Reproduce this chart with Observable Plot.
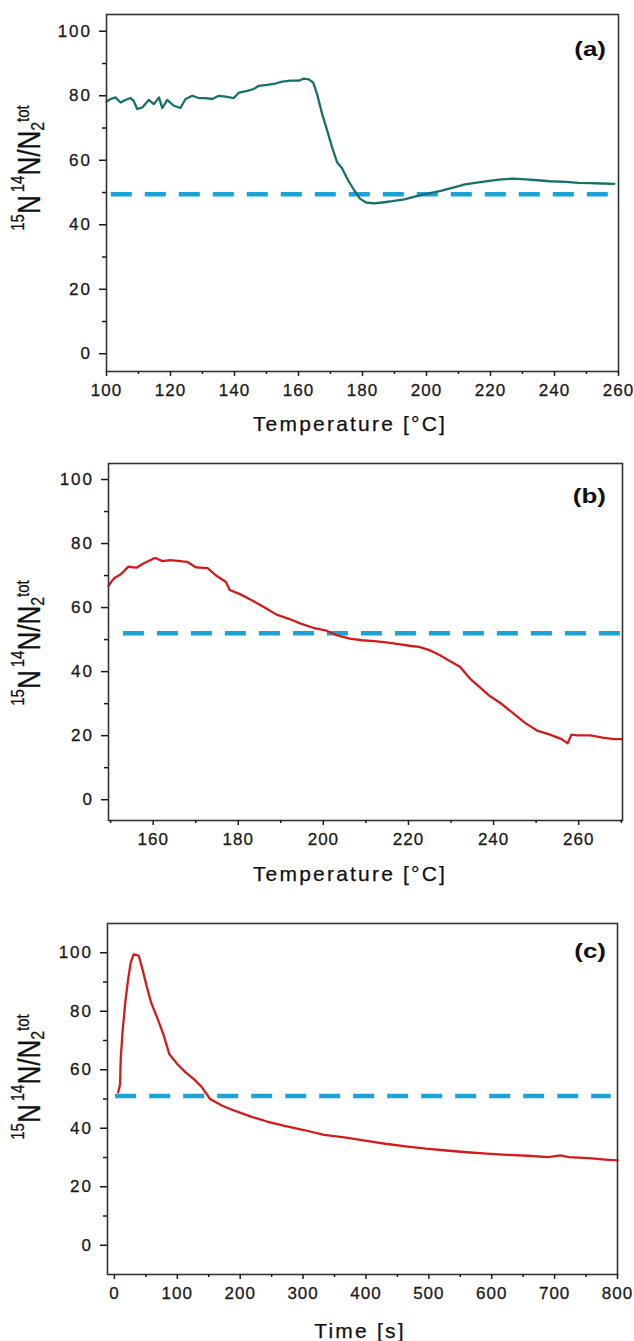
<!DOCTYPE html>
<html><head><meta charset="utf-8">
<script src="https://cdn.jsdelivr.net/npm/d3@7"></script>
<script src="https://cdn.jsdelivr.net/npm/@observablehq/plot@0.6"></script>
<style>
body{margin:0;background:#fff;}
#chart svg{display:block;}
#chart svg text{font-family:"Liberation Sans",Arial,sans-serif;}
#chart [aria-label="y-axis tick label"]{letter-spacing:2px;stroke:#1a1a1a;stroke-width:0.3px;}
#chart [aria-label="x-axis tick label"]{letter-spacing:1px;stroke:#1a1a1a;stroke-width:0.3px;}
.ttl{stroke:#111;stroke-width:0.25px;}
</style></head><body><div id="chart"></div>
<script>
// Panel (a): temperature ramp
const aTemp = [100,101.3,102.8,104.4,105.9,107.5,108.5,109.6,111.2,113.2,114.8,116.4,117.4,119,121,123.1,124.7,126.8,128.8,130.9,133,135.1,137.2,139.8,141.4,144,146,147.6,150.2,152.8,154.9,157.5,160.1,161.7,163.2,164.6,165.8,167.4,169,170.5,172.1,173.6,175.5,177.4,179.2,181.1,183.7,186.2,189.3,193.1,196.9,200.7,204.5,208.3,212,215.8,219.6,223.4,227.2,231,234.8,238.5,243.6,247.4,251.2,255,258.7];
const aRatio = [78.2,79,79.5,77.9,78.7,79.3,78.4,75.9,76.4,78.7,77.4,79.5,76.2,78.7,76.9,76.2,79,80,79.3,79.3,79,80,79.7,79.3,81,81.5,82.1,83.1,83.4,83.8,84.4,84.7,84.7,85.3,85.1,84.1,80.5,74.3,69.1,64,59.3,57.5,53.8,50.7,48.1,46.9,46.6,46.9,47.3,47.9,48.9,49.7,50.5,51.5,52.5,53.1,53.6,54.1,54.3,54.1,53.8,53.5,53.3,53,52.9,52.8,52.7];
// Panel (b)
const bTemp = [149.5,150.4,151.2,152.3,154.2,155.2,156.2,157.6,159.9,160.5,162.2,164,166.9,168,170,171,172.8,174.7,177.1,178,180.4,183.3,186.1,189,191.9,194.7,197.6,200.5,203.3,206.2,209.1,211.9,214.8,217.7,220.6,222.5,224.9,227.3,229.7,232.1,234.4,236.8,239.2,241.6,244.5,247.4,250.2,253.1,256,257.4,258.3,259.8,262.7,265.6,268.4,270];
const bRatio = [66.8,68.5,69.5,70.3,72.8,72.6,72.5,73.7,75.2,75.5,74.5,74.8,74.4,74.3,72.6,72.5,72.3,70.1,68,65.5,64.2,62.2,60.1,57.8,56.5,55,53.7,52.9,51.3,50.3,49.8,49.5,49.1,48.6,48,47.7,46.7,45.2,43.3,41.5,37.9,35.1,32.3,30.2,27.1,24,21.6,20.4,18.9,17.6,20.3,20.1,20.1,19.4,18.9,18.9];
// Panel (c): time
const cTime = [6,9,10,13,17.5,21.4,25.9,30.4,35,38.9,45.3,51.8,58.3,68,77.7,87.4,100.3,113.3,126.3,139.2,152.2,171.6,191.1,217,242.9,268.8,301.2,333.5,365.9,398.3,430.7,463.1,495.5,527.8,560.2,592.6,625,657.4,689.8,709.3,722.3,754.7,780.6,800];
const cRatio = [52.3,55,63.6,73.3,83.5,90.3,96.6,99.4,99.3,98.9,93.8,88.1,83,77.8,72.2,65.3,61.9,59.1,56.8,54,50,47.7,46,44,42.3,40.9,39.4,37.7,36.9,35.8,34.7,33.8,33,32.4,31.8,31.3,30.9,30.6,30.1,30.7,30.1,29.8,29.3,29];
// Statistical (50%) reference levels
const refLevel = [49.5, 52, 51];
const refFrom = [101.5, 153, 2];
const refTo = [258, 270, 790];
// Ticks
const aXTicks = [100,120,140,160,180,200,220,240,260];
const aXMinor = [110,130,150,170,190,210,230,250];
const bXTicks = [160,180,200,220,240,260];
const bXMinor = [150,170,190,210,230,250,270];
const cXTicks = [0,100,200,300,400,500,600,700,800];
const cXMinor = [50,150,250,350,450,550,650,750];
const yTicks = [0,20,40,60,80,100];
const yMinor = [10,30,50,70,90];
const tags = ["(a)","(b)","(c)"];
const xTitles = ["Temperature [°C]","Temperature [°C]","Time [s]"];

const panels = [
  {xs:aTemp, ys:aRatio, color:"#17706a", xDomain:[100,260], yDomain:[-5.5,105.2], xTicks:aXTicks, xMinor:aXMinor,
   h:440, mt:14, mb:69, ml:106, mr:16, i:0, titleX:350, titleY:430.5, tagY:55.5, ylabY:168},
  {xs:bTemp, ys:bRatio, color:"#d01c1c", xDomain:[149.5,270.3], yDomain:[-6.5,105], xTicks:bXTicks, xMinor:bXMinor,
   h:450, mt:23, mb:70, ml:108, mr:12, i:1, titleX:350, titleY:440.5, tagY:62.5, ylabY:203},
  {xs:cTime, ys:cRatio, color:"#d01c1c", xDomain:[-11,800], yDomain:[-10,110], xTicks:cXTicks, xMinor:cXMinor,
   h:451, mt:33, mb:67, ml:107, mr:17, i:2, titleX:360, titleY:447.5, tagY:67.5, ylabY:187}
];

const root = document.getElementById("chart");
for (const p of panels) {
  const rows = p.xs.map((x, k) => ({x, y: p.ys[k]}));
  const ref = [{y: refLevel[p.i], x1: refFrom[p.i], x2: refTo[p.i]}];
  const svg = Plot.plot({
    width: 634, height: p.h,
    marginTop: p.mt, marginBottom: p.mb, marginLeft: p.ml, marginRight: p.mr,
    style: {fontSize: "17px", fontFamily: "Liberation Sans, Arial, sans-serif", color: "#1a1a1a", background: "#fff"},
    x: {domain: p.xDomain, label: null},
    y: {domain: p.yDomain, label: null},
    marks: [
      Plot.ruleY(ref, {y: "y", x1: "x1", x2: "x2", stroke: "#1ba3d8", strokeWidth: 4.5, strokeDasharray: "21,13"}),
      Plot.line(rows, {x: "x", y: "y", stroke: p.color, strokeWidth: 2.3}),
      Plot.frame({stroke: "#333", strokeWidth: 1.6}),
      Plot.axisX(p.xTicks, {tickSize: 5, tickPadding: 7.5, strokeWidth: 1.5, label: null}),
      Plot.axisX(p.xMinor, {tickSize: 3, tickFormat: () => "", strokeWidth: 1.5, label: null}),
      Plot.axisY(yTicks, {tickSize: 7, tickPadding: 7.5, strokeWidth: 1.5, label: null}),
      Plot.axisY(yMinor, {tickSize: 4, tickFormat: () => "", strokeWidth: 1.5, label: null})
    ]
  });
  const s = d3.select(svg);
  s.append("text").attr("class", "ttl").attr("x", p.titleX).attr("y", p.titleY)
    .attr("text-anchor", "middle").attr("fill", "#111").style("font-size", "21px").style("letter-spacing", "2.2px").text(xTitles[p.i]);
  s.append("text").attr("transform", `translate(606,${p.tagY}) scale(1.3,1)`).attr("text-anchor", "end")
    .attr("fill", "#111").style("font-size", "20px").style("font-weight", "bold").text(tags[p.i]);
  const yl = s.append("text").attr("class", "ttl").attr("transform", `translate(40,${p.ylabY}) scale(1.2,1) rotate(-90)`)
    .attr("text-anchor", "middle").attr("fill", "#111").style("font-size", "26px");
  yl.append("tspan").style("font-size", "15px").attr("dy", -13).text("15");
  yl.append("tspan").attr("dy", 13).text("N");
  yl.append("tspan").style("font-size", "15px").attr("dy", -13).attr("dx", 3).text("14");
  yl.append("tspan").attr("dy", 13).text("N/N");
  yl.append("tspan").style("font-size", "16px").attr("dy", 3.5).text("2");
  yl.append("tspan").style("font-size", "15px").attr("dy", -12.5).text("tot");
  root.appendChild(svg);
}
</script></body></html>
